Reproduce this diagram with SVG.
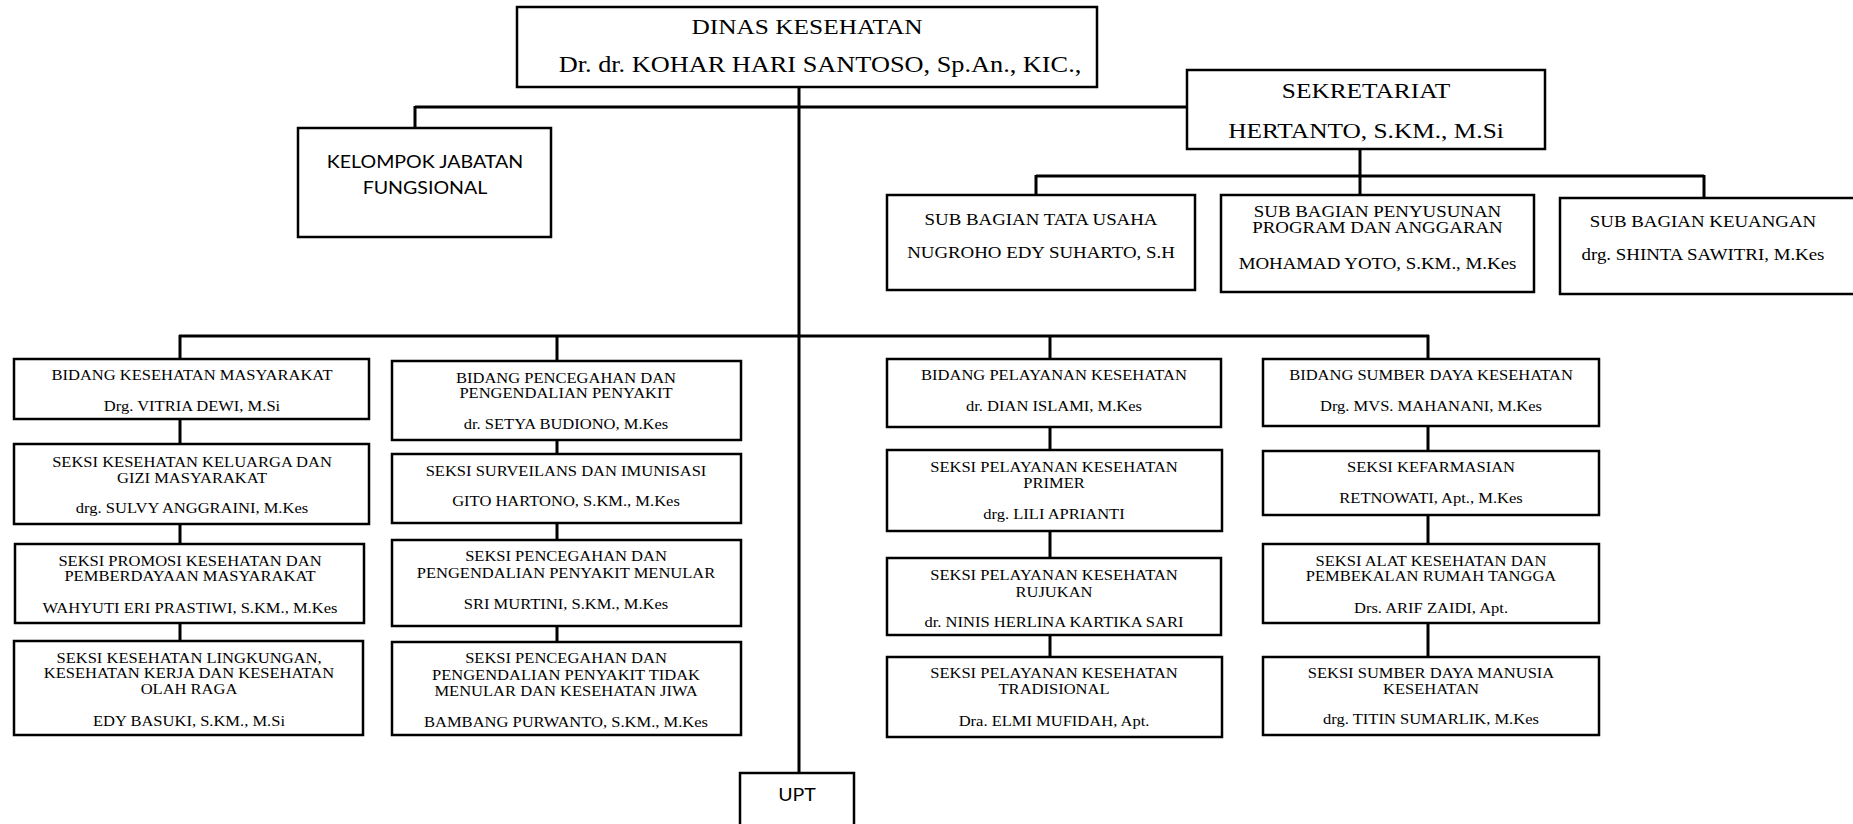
<svg xmlns="http://www.w3.org/2000/svg" width="1853" height="824" viewBox="0 0 1853 824">
<style>
.box{fill:#fff;stroke:#000;stroke-width:2.5}
.ln{stroke:#000;stroke-width:3;fill:none}
.t{font-family:"Liberation Serif","Times New Roman",serif;font-size:14px;text-anchor:middle;fill:#000}
.m{font-size:16px}
.l{font-size:21.5px}
.xl{font-size:22.3px}
.s{font-family:Lato,"Open Sans","Liberation Sans",sans-serif;font-size:16.6px;text-anchor:middle;fill:#000}
</style>
<rect width="1853" height="824" fill="#fff"/>
<g id="connectors">
<path class="ln" d="M799 87V773"/>
<path class="ln" d="M415 107H1187M415 106V128"/>
<path class="ln" d="M1360 149V195M1036 176H1704M1036 175V195M1704 175V198"/>
<path class="ln" d="M179 336H1429M180 335V641M557 335V642M1050 335V657M1428 335V657"/>
</g>
<g id="dinas">
<rect class="box" x="517" y="7" width="580" height="80"/>
<g transform="translate(807 0) scale(1.18 1)"><text class="t l" y="34">DINAS KESEHATAN</text></g>
<g transform="translate(820 0) scale(1.18 1)"><text class="t xl" y="72">Dr. dr. KOHAR HARI SANTOSO, Sp.An., KIC.,</text></g>
</g>
<g id="sekretariat">
<rect class="box" x="1187" y="70" width="358" height="79"/>
<g transform="translate(1366 0) scale(1.18 1)"><text class="t l" y="98">SEKRETARIAT</text><text class="t l" y="138">HERTANTO, S.KM., M.Si</text></g>
</g>
<g id="kelompok">
<rect class="box" x="298" y="128" width="253" height="109"/>
<g transform="translate(425 0) scale(1.18 1)"><text class="s" y="168">KELOMPOK JABATAN</text><text class="s" y="194">FUNGSIONAL</text></g>
</g>
<g id="tata-usaha">
<rect class="box" x="887" y="195" width="308" height="95"/>
<g transform="translate(1041 0) scale(1.18 1)"><text class="t m" y="225">SUB BAGIAN TATA USAHA</text><text class="t m" y="258">NUGROHO EDY SUHARTO, S.H</text></g>
</g>
<g id="penyusunan">
<rect class="box" x="1221" y="195" width="313" height="97"/>
<g transform="translate(1377.5 0) scale(1.18 1)"><text class="t m" y="217">SUB BAGIAN PENYUSUNAN</text><text class="t m" y="233">PROGRAM DAN ANGGARAN</text><text class="t m" y="269">MOHAMAD YOTO, S.KM., M.Kes</text></g>
</g>
<g id="keuangan">
<rect class="box" x="1560" y="198" width="296" height="96"/>
<g transform="translate(1703 0) scale(1.18 1)"><text class="t m" y="227">SUB BAGIAN KEUANGAN</text><text class="t m" y="260">drg. SHINTA SAWITRI, M.Kes</text></g>
</g>
<g id="bidang-kesmas">
<rect class="box" x="14" y="359" width="355" height="60"/>
<g transform="translate(192 0) scale(1.18 1)"><text class="t" y="380">BIDANG KESEHATAN MASYARAKAT</text><text class="t" y="411">Drg. VITRIA DEWI, M.Si</text></g>
</g>
<g id="seksi-keluarga">
<rect class="box" x="14" y="444" width="355" height="80"/>
<g transform="translate(192 0) scale(1.18 1)"><text class="t" y="467">SEKSI KESEHATAN KELUARGA DAN</text><text class="t" y="483">GIZI MASYARAKAT</text><text class="t" y="513">drg. SULVY ANGGRAINI, M.Kes</text></g>
</g>
<g id="seksi-promosi">
<rect class="box" x="15" y="544" width="349" height="79"/>
<g transform="translate(190 0) scale(1.18 1)"><text class="t" y="566">SEKSI PROMOSI KESEHATAN DAN</text><text class="t" y="581">PEMBERDAYAAN MASYARAKAT</text><text class="t" y="613">WAHYUTI ERI PRASTIWI, S.KM., M.Kes</text></g>
</g>
<g id="seksi-lingkungan">
<rect class="box" x="14" y="641" width="349" height="94"/>
<g transform="translate(189 0) scale(1.18 1)"><text class="t" y="663">SEKSI KESEHATAN LINGKUNGAN,</text><text class="t" y="678">KESEHATAN KERJA DAN KESEHATAN</text><text class="t" y="694">OLAH RAGA</text><text class="t" y="726">EDY BASUKI, S.KM., M.Si</text></g>
</g>
<g id="bidang-p2p">
<rect class="box" x="392" y="361" width="349" height="79"/>
<g transform="translate(566 0) scale(1.18 1)"><text class="t" y="383">BIDANG PENCEGAHAN DAN</text><text class="t" y="398">PENGENDALIAN PENYAKIT</text><text class="t" y="429">dr. SETYA BUDIONO, M.Kes</text></g>
</g>
<g id="seksi-surveilans">
<rect class="box" x="392" y="454" width="349" height="69"/>
<g transform="translate(566 0) scale(1.18 1)"><text class="t" y="476">SEKSI SURVEILANS DAN IMUNISASI</text><text class="t" y="506">GITO HARTONO, S.KM., M.Kes</text></g>
</g>
<g id="seksi-p2pm">
<rect class="box" x="392" y="540" width="349" height="86"/>
<g transform="translate(566 0) scale(1.18 1)"><text class="t" y="561">SEKSI PENCEGAHAN DAN</text><text class="t" y="578">PENGENDALIAN PENYAKIT MENULAR</text><text class="t" y="609">SRI MURTINI, S.KM., M.Kes</text></g>
</g>
<g id="seksi-p2ptm">
<rect class="box" x="392" y="642" width="349" height="93"/>
<g transform="translate(566 0) scale(1.18 1)"><text class="t" y="663">SEKSI PENCEGAHAN DAN</text><text class="t" y="680">PENGENDALIAN PENYAKIT TIDAK</text><text class="t" y="696">MENULAR DAN KESEHATAN JIWA</text><text class="t" y="727">BAMBANG PURWANTO, S.KM., M.Kes</text></g>
</g>
<g id="bidang-yankes">
<rect class="box" x="887" y="359" width="334" height="68"/>
<g transform="translate(1054 0) scale(1.18 1)"><text class="t" y="380">BIDANG PELAYANAN KESEHATAN</text><text class="t" y="411">dr. DIAN ISLAMI, M.Kes</text></g>
</g>
<g id="seksi-primer">
<rect class="box" x="887" y="450" width="335" height="81"/>
<g transform="translate(1054 0) scale(1.18 1)"><text class="t" y="472">SEKSI PELAYANAN KESEHATAN</text><text class="t" y="488">PRIMER</text><text class="t" y="519">drg. LILI APRIANTI</text></g>
</g>
<g id="seksi-rujukan">
<rect class="box" x="887" y="558" width="334" height="77"/>
<g transform="translate(1054 0) scale(1.18 1)"><text class="t" y="580">SEKSI PELAYANAN KESEHATAN</text><text class="t" y="597">RUJUKAN</text><text class="t" y="627">dr. NINIS HERLINA KARTIKA SARI</text></g>
</g>
<g id="seksi-tradisional">
<rect class="box" x="887" y="657" width="335" height="80"/>
<g transform="translate(1054 0) scale(1.18 1)"><text class="t" y="678">SEKSI PELAYANAN KESEHATAN</text><text class="t" y="694">TRADISIONAL</text><text class="t" y="726">Dra. ELMI MUFIDAH, Apt.</text></g>
</g>
<g id="bidang-sdk">
<rect class="box" x="1263" y="359" width="336" height="67"/>
<g transform="translate(1431 0) scale(1.18 1)"><text class="t" y="380">BIDANG SUMBER DAYA KESEHATAN</text><text class="t" y="411">Drg. MVS. MAHANANI, M.Kes</text></g>
</g>
<g id="seksi-kefarmasian">
<rect class="box" x="1263" y="451" width="336" height="64"/>
<g transform="translate(1431 0) scale(1.18 1)"><text class="t" y="472">SEKSI KEFARMASIAN</text><text class="t" y="503">RETNOWATI, Apt., M.Kes</text></g>
</g>
<g id="seksi-alkes">
<rect class="box" x="1263" y="544" width="336" height="79"/>
<g transform="translate(1431 0) scale(1.18 1)"><text class="t" y="566">SEKSI ALAT KESEHATAN DAN</text><text class="t" y="581">PEMBEKALAN RUMAH TANGGA</text><text class="t" y="613">Drs. ARIF ZAIDI, Apt.</text></g>
</g>
<g id="seksi-sdm">
<rect class="box" x="1263" y="657" width="336" height="78"/>
<g transform="translate(1431 0) scale(1.18 1)"><text class="t" y="678">SEKSI SUMBER DAYA MANUSIA</text><text class="t" y="694">KESEHATAN</text><text class="t" y="724">drg. TITIN SUMARLIK, M.Kes</text></g>
</g>
<g id="upt">
<rect class="box" x="740" y="773" width="114" height="60"/>
<g transform="translate(797 0) scale(1.18 1)"><text class="s" y="801">UPT</text></g>
</g>
</svg>
